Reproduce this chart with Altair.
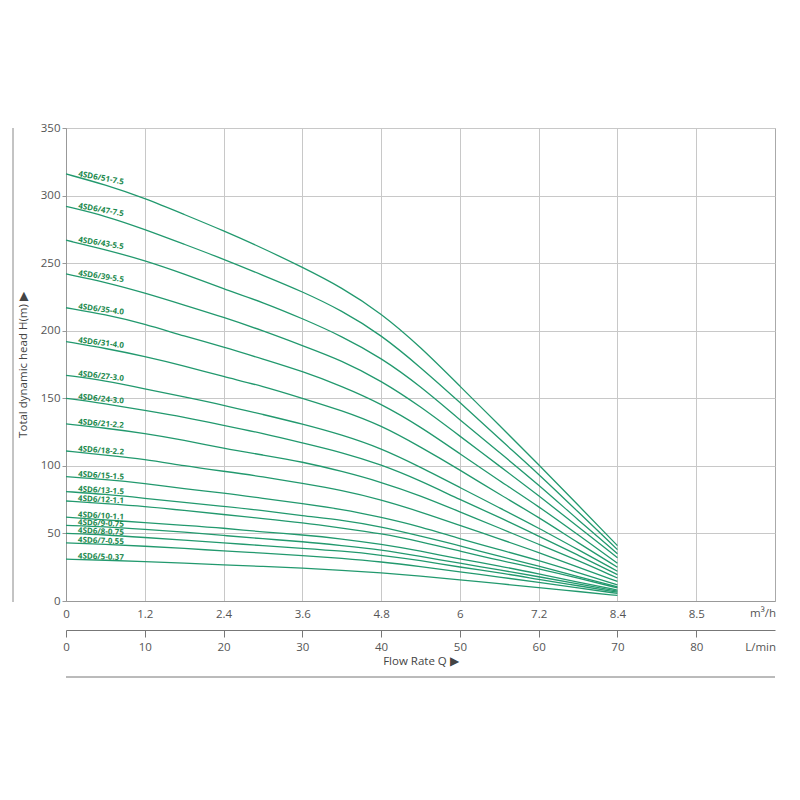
import math
import altair as alt
import pandas as pd

# ---------------- data ----------------
q_lmin = [0, 5, 10, 15, 20, 25, 30, 35, 40, 45, 50, 55, 60, 65, 70]

models = ["4SD6/51-7.5", "4SD6/47-7.5", "4SD6/43-5.5", "4SD6/39-5.5",
          "4SD6/35-4.0", "4SD6/31-4.0", "4SD6/27-3.0", "4SD6/24-3.0",
          "4SD6/21-2.2", "4SD6/18-2.2", "4SD6/15-1.5", "4SD6/13-1.5",
          "4SD6/12-1.1", "4SD6/10-1.1", "4SD6/9-0.75", "4SD6/8-0.75",
          "4SD6/7-0.55", "4SD6/5-0.37"]

h51 = [316, 308, 298, 286, 274, 261, 247, 232, 213, 188, 159, 130, 101, 71, 41]
h47 = [292, 285, 275, 264, 253, 241, 229, 215, 197, 173, 147, 120, 94, 66, 38]
h43 = [267, 260, 252, 242, 231, 221, 209, 196, 180, 159, 134, 110, 86, 60, 35]
h39 = [242, 236, 228, 219, 210, 200, 189, 178, 163, 144, 122, 100, 78, 55, 32]
h35 = [217, 212, 205, 196, 188, 179, 170, 159, 146, 129, 109, 89, 70, 49, 28]
h31 = [192, 187, 181, 174, 166, 159, 150, 141, 130, 114, 97, 79, 62, 43, 25]
h27 = [167, 163, 157, 151, 145, 138, 131, 123, 113, 99, 84, 69, 54, 38, 22]
h24 = [150, 146, 141, 136, 130, 124, 117, 110, 101, 89, 75, 62, 48, 34, 19.5]
h21 = [131, 128, 124, 119, 113, 108, 103, 96, 88, 78, 66, 54, 42, 30, 17]
h18 = [111, 108, 105, 100, 96, 92, 87, 82, 75, 66, 56, 46, 36, 25, 14.5]
h15 = [92, 90, 87, 83, 80, 76, 72, 68, 62, 55, 46, 38, 30, 21, 12]
h13 = [81, 79, 76, 73, 70, 67, 63, 60, 55, 48, 41, 33, 26, 18, 10.5]
h12 = [74, 72, 70, 67, 64, 61, 58, 54, 50, 44, 37, 30, 24, 17, 9.7]
h10 = [62, 60, 58, 56, 54, 51, 49, 46, 42, 37, 31, 26, 20, 14, 8.1]
h9 = [56, 55, 53, 51, 48.5, 46, 44, 41, 38, 33, 28, 23, 18, 12.7, 7.3]
h8 = [50, 49, 47, 45, 43, 41, 39, 37, 34, 30, 25, 21, 16, 11.3, 6.5]
h7 = [43, 42, 40.5, 39, 37, 35.5, 33.7, 31.6, 29, 25.5, 21.6, 17.7, 13.8, 9.7, 5.6]
h5 = [31, 30.2, 29.2, 28, 26.8, 25.6, 24.3, 22.8, 20.9, 18.4, 15.6, 12.8, 10, 7, 4.1]

heads = [h51, h47, h43, h39, h35, h31, h27, h24, h21, h18,
         h15, h13, h12, h10, h9, h8, h7, h5]

x_ticks = [0, 10, 20, 30, 40, 50, 60, 70, 80]
m3h_labels = ["0", "1.2", "2.4", "3.6", "4.8", "6", "7.2", "8.4", "8.5"]
y_ticks = [0, 50, 100, 150, 200, 250, 300, 350]

# ---------------- layout ----------------
W, H = 709, 473
X_MAX, Y_MAX = 90, 350
PX_Q = W / X_MAX
PX_H = H / Y_MAX
GREEN = "#22996e"
TGREEN = "#1d8a4e"
FONT = "Open Sans"

rows = []
for m, hs in zip(models, heads):
    for qq, hh in zip(q_lmin, hs):
        rows.append({"model": m, "q": qq, "h": hh})
curves = pd.DataFrame(rows)

lab_rows = []
LX = 1.5
for m, hs in zip(models, heads):
    d = hs[0] - hs[2]
    slope = math.degrees(math.atan(d * PX_H / (10 * PX_Q)))
    lab_rows.append({"model": m, "q": LX, "h": hs[0] - (hs[0] - hs[1]) * LX / 5,
                     "ang": 0.55 * slope + 1})
labels = pd.DataFrame(lab_rows)

xscale = alt.Scale(domain=[0, X_MAX], nice=False, zero=False)
yscale = alt.Scale(domain=[0, Y_MAX], nice=False, zero=False)

label_expr = "[" + ",".join("'%s'" % s for s in m3h_labels) + "][round(datum.value/10)]"

xaxis1 = alt.Axis(values=x_ticks, labelExpr=label_expr, title=None, ticks=False,
                  tickSize=0, labelPadding=7, labelFlush=False, grid=True,
                  labelFontSize=11.5, labelColor="#555", labelFont=FONT,
                  domainColor="#999")
yaxis = alt.Axis(values=y_ticks, title="Total dynamic head H(m)    \u25B6",
                 tickSize=4, labelPadding=2, titlePadding=12, grid=True,
                 labelFontSize=11.5, labelColor="#555", labelFont=FONT,
                 titleFontSize=11.5, titleColor="#444", titleFont=FONT,
                 titleFontWeight="normal", tickColor="#999", domainColor="#999")

lines = alt.Chart(curves).mark_line(
    interpolate="basis", color=GREEN, strokeWidth=1.3
).encode(
    x=alt.X("q:Q", scale=xscale, axis=xaxis1),
    y=alt.Y("h:Q", scale=yscale, axis=yaxis),
    detail="model:N",
)

texts = alt.Chart(labels).mark_text(
    align="left", baseline="alphabetic", fontSize=8, fontWeight="bold",
    color=TGREEN, font=FONT, dy=-1
).encode(
    x=alt.X("q:Q"),
    y=alt.Y("h:Q"),
    angle=alt.Angle("ang:Q", scale=None),
    text="model:N",
)

unit_df = pd.DataFrame({"q": [X_MAX]})
unit1 = alt.Chart(unit_df).mark_text(
    align="right", baseline="middle", fontSize=11.5, color="#555", font=FONT, dx=1
).encode(x=alt.X("q:Q"), y=alt.value(H + 13), text=alt.value("m\u00B3/h"))
unit2 = alt.Chart(unit_df).mark_text(
    align="right", baseline="middle", fontSize=11.5, color="#555", font=FONT, dx=1
).encode(x=alt.X("q:Q"), y=alt.value(H + 47), text=alt.value("L/min"))

left_rule = alt.Chart(unit_df).mark_rule(color="#888", strokeWidth=1).encode(
    x=alt.value(-53), y=alt.value(0), y2=alt.value(H + 1)
)

inner = alt.layer(lines, texts, unit1, unit2, left_rule)

xaxis2 = alt.Axis(values=x_ticks, orient="bottom", offset=29, tickSize=7,
                  labelPadding=4, labelFlush=False, grid=False,
                  title="Flow Rate Q  \u25B6", titlePadding=3,
                  labelFontSize=11.5, labelColor="#555", labelFont=FONT,
                  titleFontSize=11.5, titleColor="#444", titleFont=FONT,
                  titleFontWeight="normal", tickColor="#777", domainColor="#777")

bottom_df = pd.DataFrame({"q": [0], "q2": [X_MAX]})
bottom = alt.Chart(bottom_df).mark_rule(color="#777", strokeWidth=1).encode(
    x=alt.X("q:Q", scale=alt.Scale(domain=[0, X_MAX], nice=False, zero=False),
            axis=xaxis2),
    x2="q2:Q",
    y=alt.value(H + 76),
)

chart = alt.layer(inner, bottom).resolve_scale(x="independent").properties(
    width=W, height=H,
    autosize=alt.AutoSizeParams(type="none"),
    padding={"left": 58, "top": 120, "right": 17, "bottom": 100},
).configure_view(
    stroke="#aaa", strokeWidth=1
).configure_axis(
    gridColor="#c8c8c8", gridWidth=1
)

chart.save("out.html", embed_options={"renderer": "svg", "actions": False})
